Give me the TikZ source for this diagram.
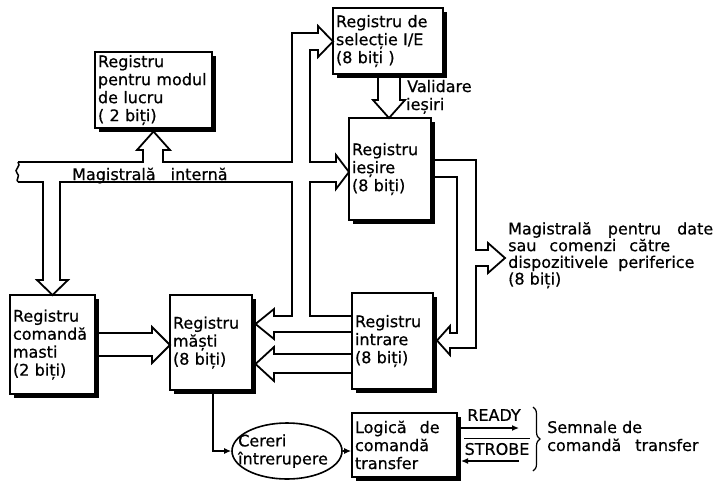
\documentclass[tikz,border=0pt]{standalone}
\usepackage{fontspec}
\setmainfont{DejaVu Sans}[FakeBold=0.6]
\usetikzlibrary{shadows,decorations.pathreplacing,arrows.meta,shapes.geometric}
\begin{document}
\begin{tikzpicture}[x=1pt,y=-1pt,
  box/.style={draw, line width=1.6pt, fill=white,
    general shadow={fill=black, shadow xshift=3.5pt, shadow yshift=-3.5pt},
    align=left, inner xsep=3pt, inner ysep=2pt,
    font=\fontsize{16}{18}\selectfont},
  bus/.style={line width=1.8pt, line join=miter},
  sig/.style={line width=1.3pt, -{Latex[length=7pt,width=6pt]}},
  lbl/.style={font=\fontsize{16}{18}\selectfont, align=left, inner sep=0pt}]
\useasboundingbox (0,0) rectangle (717,483);

% ---- boxes ----
\node[box, minimum width=117pt, minimum height=76pt, text width=111pt] (modul) at (153.5,90) {Registru\\pentru modul\\de lucru\\( 2 biți)};
\node[box, minimum width=110pt, minimum height=66pt, text width=104pt] (sel) at (388,41) {Registru de\\selecție I/E\\(8 biți )};
\node[box, minimum width=82pt, minimum height=102pt, text width=76pt] (ies) at (390,169) {Registru\\ieșire\\(8 biți)};
\node[box, minimum width=81pt, minimum height=96pt, text width=75pt] (intr) at (392.5,341) {Registru\\intrare\\(8 biți)};
\node[box, minimum width=82pt, minimum height=95pt, text width=76pt] (masti) at (211,342.5) {Registru\\măști\\(8 biți)};
\node[box, minimum width=85pt, minimum height=99pt, text width=79pt] (cmd) at (52.5,344.5) {Registru\\comandă\\masti\\(2 biți)};
\node[box, minimum width=105pt, minimum height=64pt, text width=99pt] (logic) at (404.5,445) {Logică\hspace{13pt}de\\comandă\\transfer};

\node[draw, ellipse, line width=1.6pt, minimum width=110pt, minimum height=56pt, inner sep=0pt] (ell) at (287,451) {};
\node[lbl, anchor=west] (elltxt) at (238,451) {Cereri\\întrerupere};

% ---- internal bus and vertical bus ----
\draw[bus] (18,162) -- (143,162) -- (143,150) -- (137,150) -- (153.5,131.5) -- (170,150) -- (163,150) -- (163,162)
  -- (292,162) -- (292,33) -- (318,33) -- (318,26) -- (333,41.5) -- (318,57) -- (318,50) -- (310,50)
  -- (310,162) -- (336,162) -- (336,155) -- (349,172) -- (336,189) -- (336,182) -- (310,182)
  -- (310,316) -- (352,316);
\draw[bus] (18,182) -- (43,182) -- (43,280) -- (37,280) -- (52.5,295) -- (68,280) -- (60,280) -- (60,182)
  -- (292,182) -- (292,316) -- (274,316) -- (274,309) -- (255.5,324) -- (274,339) -- (274,332) -- (352,332);
\draw[line width=1.5pt] (18,162) .. controls (22,166) and (13,170) .. (17,173) .. controls (21,176) and (15,180) .. (18,182);

% intrare -> masti (second)
\draw[bus] (352,354) -- (274,354) -- (274,347) -- (255.5,364) -- (274,381) -- (274,373) -- (352,373);
% comanda -> masti
\draw[bus] (98.5,333) -- (152,333) -- (152,327) -- (170,345) -- (152,363) -- (152,356) -- (98.5,356);
% validare iesiri
\draw[bus] (378,77.5) -- (378,100) -- (373,100) -- (389,118) -- (405,100) -- (400,100) -- (400,77.5);
% data bus to peripherals
\draw[bus] (434.5,160) -- (476,160) -- (476,250) -- (488,250) -- (488,243) -- (505,258) -- (488,273) -- (488,266)
  -- (476,266) -- (476,348) -- (450,348) -- (450,355) -- (437,340.5) -- (450,326) -- (450,333) -- (457,333)
  -- (457,177) -- (434.5,177);

% ---- signals ----
\draw[sig] ([xshift=2pt]masti.south) |- (ell.west);
\draw[sig] (ell.east) -- (ell.east -| logic.west);
\coordinate (r1) at (461,428); \coordinate (r2) at (519,428);
\coordinate (s1) at (519,461); \coordinate (s2) at (461,461);
\draw[sig] (r1) -- (r2);
\draw[sig] (s1) -- (s2);

% ---- labels ----
\node[lbl] (ready) at (494,415) {READY};
\node[lbl] (strobe) at (497,449) {STROBE};
\draw[line width=1.1pt] ([yshift=4pt]strobe.north west) -- ([yshift=4pt]strobe.north east);
\draw[decorate, decoration={brace, amplitude=7pt}, line width=1.2pt] (533,407) -- (533,471);
\node[lbl, anchor=west] (semn) at (547,436) {Semnale de\\comandă\hspace{14pt}transfer};

\node[lbl, anchor=base west] (mi) at (72,180) {Magistrală\hspace{15pt}internă};
\node[lbl, anchor=base west] (val) at (407,92) {Validare};
\node[lbl, anchor=base west] (vale) at (406,110) {ieșiri};
\node[lbl, anchor=north west, font=\fontsize{16}{16.7}\selectfont] (mpd) at (508,222)
  {\makebox[205pt][s]{Magistrală pentru date}\\\makebox[162pt][s]{sau comenzi către}\\dispozitivele\hspace{10pt}periferice\\(8 biți)};
\end{tikzpicture}
\end{document}
